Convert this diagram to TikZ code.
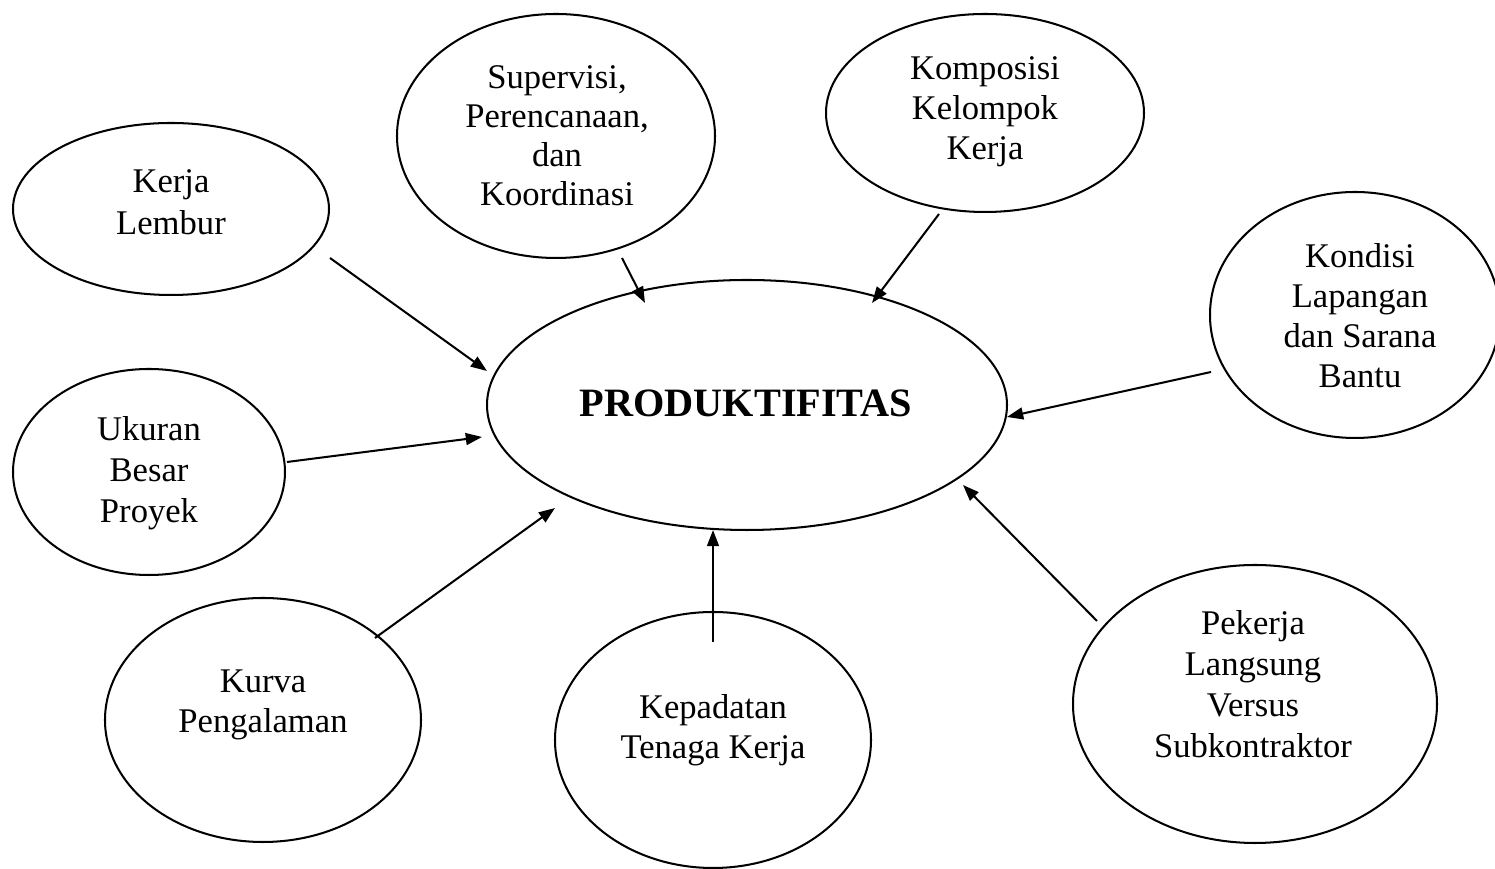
\documentclass[tikz,border=0pt]{standalone}
\usepackage{fontspec}
\setmainfont{Liberation Serif}
\usetikzlibrary{shapes.geometric,arrows.meta}
\tikzset{
  ell/.style 2 args={ellipse, draw, line width=0.75pt, inner sep=0pt,
    minimum width={2*#1*0.37pt}, minimum height={2*#2*0.37pt}},
  txt/.style={align=center, inner sep=0pt, font=\fontsize{12.8}{#1}\selectfont},
  arr/.style={line width=0.75pt, -{Triangle[length=6pt,width=4.4pt]}}
}
\begin{document}
\begin{tikzpicture}[x=0.37pt, y=-0.37pt]
\useasboundingbox (0,0) rectangle (1495,869);
% ellipses
\node[ell={158}{86}]  (kl) at (171,209) {};
\node[ell={159}{122}] (sp) at (556,136) {};
\node[ell={159}{99}]  (kk) at (985,113) {};
\node[ell={145}{123}] (kd) at (1355,315) {};
\node[ell={260}{125}] (pr) at (747,405) {};
\node[ell={136}{103}] (uk) at (149,472) {};
\node[ell={158}{122}] (kv) at (263,720) {};
\node[ell={158}{128}] (kp) at (713,740) {};
\node[ell={182}{139}] (pk) at (1255,704) {};
% texts
\node[txt=15.5pt] (kl-t) at (171,202) {Kerja\\Lembur};
\node[txt=14.4pt] (sp-t) at (557,136) {Supervisi,\\Perencanaan,\\dan\\Koordinasi};
\node[txt=14.8pt] (kk-t) at (985,112) {Komposisi\\Kelompok\\Kerja};
\node[txt=14.8pt] (kd-t) at (1360,316) {Kondisi\\Lapangan\\dan Sarana\\Bantu};
\node[inner sep=0pt, anchor=base, font=\fontsize{14.9}{17}\selectfont\bfseries] (pr-t) at (746,417) {PRODUKTIFITAS};
\node[txt=15.2pt] (uk-t) at (149,473) {Ukuran\\Besar\\Proyek};
\node[txt=14.8pt] (kv-t) at (263,705) {Kurva\\Pengalaman};
\node[txt=14.8pt] (kp-t) at (713,730) {Kepadatan\\Tenaga Kerja};
\node[txt=15.2pt] (pk-t) at (1253,684) {Pekerja\\Langsung\\Versus\\Subkontraktor};
% arrow end points
\coordinate (klA) at (330,258);  \coordinate (klB) at (487,371);
\coordinate (spA) at (622,258);  \coordinate (spB) at (645,303);
\coordinate (kkA) at (939,214);  \coordinate (kkB) at (872,303);
\coordinate (kdA) at (1211,372); \coordinate (kdB) at (1007,417);
\coordinate (pkA) at (1097,621); \coordinate (pkB) at (963,485);
\coordinate (ukA) at (287,462);  \coordinate (ukB) at (482,437);
\coordinate (kvA) at (375,638);  \coordinate (kvB) at (555,508);
\coordinate (kpA) at (713,642);  \coordinate (kpB) at (713,530);
\draw[arr] (klA) -- (klB);
\draw[arr] (spA) -- (spB);
\draw[arr] (kkA) -- (kkB);
\draw[arr] (kdA) -- (kdB);
\draw[arr] (pkA) -- (pkB);
\draw[arr] (ukA) -- (ukB);
\draw[arr] (kvA) -- (kvB);
\draw[arr] (kpA) -- (kpB);
\end{tikzpicture}
\end{document}
